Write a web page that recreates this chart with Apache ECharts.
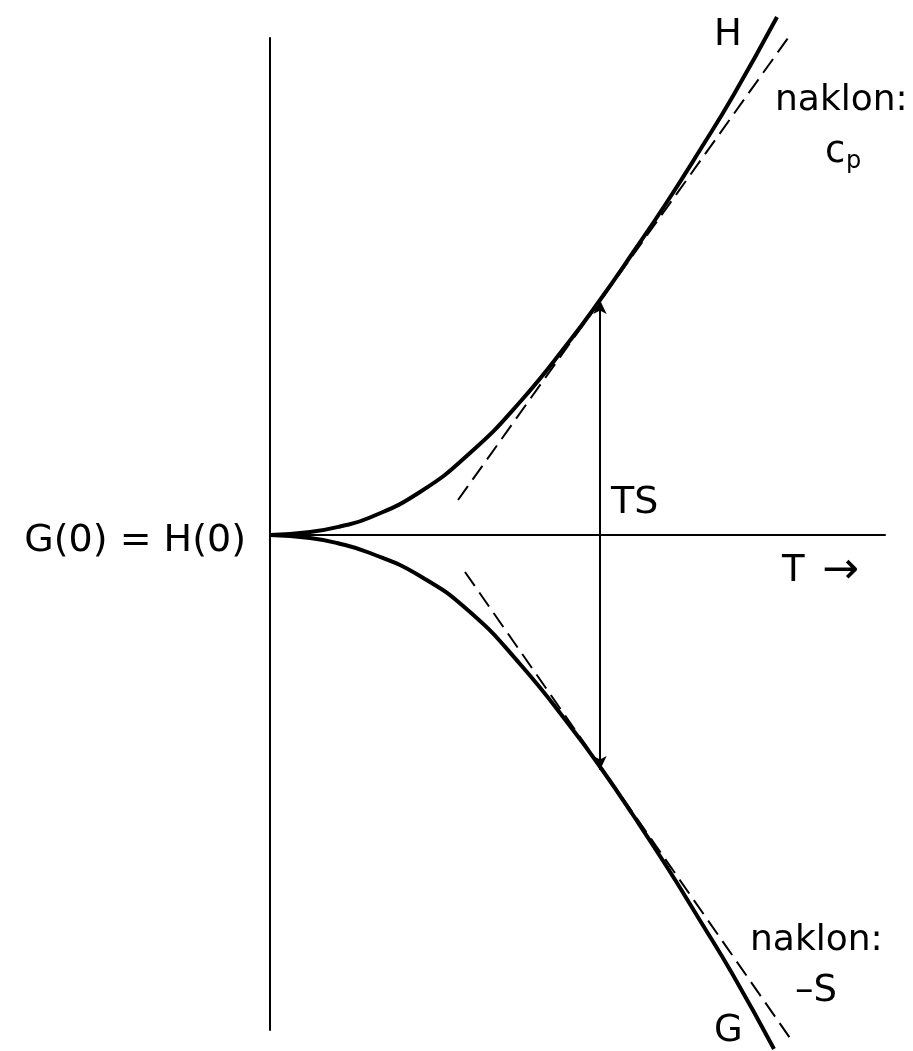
<!DOCTYPE html>
<html>
<head>
<meta charset="utf-8">
<script src="https://cdn.jsdelivr.net/npm/echarts@6/dist/echarts.min.js"></script>
<style>
  html, body { margin: 0; padding: 0; background: #fff; }
  #chart { width: 913px; height: 1051px; }
</style>
</head>
<body>
<div id="chart"></div>
<script>
// T in units of 100 px from the origin, value likewise (positive = up)
var hT = [0, 0.4, 0.7, 1.0, 1.5, 2.0, 2.5, 3.0, 3.3, 3.63, 3.97, 4.3, 4.63, 5.07];
var hVal = [0, 0.03, 0.085, 0.175, 0.43, 0.82, 1.33, 1.945, 2.35, 2.825, 3.33, 3.85, 4.39, 5.18];

var gT = [0, 0.4, 0.67, 1.0, 1.5, 2.0, 2.5, 3.0, 3.33, 3.63, 3.97, 4.3, 4.63, 5.04];
var gVal = [0, -0.03, -0.08, -0.18, -0.41, -0.77, -1.29, -1.91, -2.36, -2.8, -3.32, -3.855, -4.4, -5.14];

// tangent lines (slope c_p and -S)
var hTanT = [1.88, 5.18];
var hTanVal = [0.35, 4.97];
var gTanT = [1.95, 5.2];
var gTanVal = [-0.37, -5.03];

// T*S arrow between the curves
var arrowT = 3.3;
var arrowTop = 2.35;
var arrowBottom = -2.35;

function pairs(xs, ys) {
  return xs.map(function (x, i) { return [x, ys[i]]; });
}

var chart = echarts.init(document.getElementById("chart"));

var font = '"DejaVu Sans", Verdana, sans-serif';
function label(text, x, y, size, align) {
  return {
    type: "text",
    x: x,
    y: y,
    style: {
      text: text,
      font: size + "px " + font,
      fill: "#000",
      textAlign: align || "left",
      textVerticalAlign: "middle"
    }
  };
}

var curveStyle = { color: "#000", width: 4 };
var tangentStyle = { color: "#000", width: 2, type: [17, 8] };

var option = {
  animation: false,
  backgroundColor: "#fff",
  grid: { left: 270, right: 28, top: 38, bottom: 21 },
  xAxis: {
    type: "value",
    min: 0,
    max: 6.15,
    axisLine: { show: true, onZero: true, lineStyle: { color: "#000", width: 2 } },
    axisTick: { show: false },
    axisLabel: { show: false },
    splitLine: { show: false }
  },
  yAxis: {
    type: "value",
    min: -4.95,
    max: 4.97,
    axisLine: { show: true, onZero: true, lineStyle: { color: "#000", width: 2 } },
    axisTick: { show: false },
    axisLabel: { show: false },
    splitLine: { show: false }
  },
  series: [
    {
      name: "H",
      type: "line",
      data: pairs(hT, hVal),
      smooth: 0.5,
      showSymbol: false,
      clip: false,
      silent: true,
      lineStyle: curveStyle,
      markLine: {
        silent: true,
        symbol: ["arrow", "arrow"],
        symbolSize: [10, 14],
        label: { show: false },
        lineStyle: { color: "#000", width: 2, type: "solid" },
        data: [[{ coord: [arrowT, arrowTop] }, { coord: [arrowT, arrowBottom] }]]
      }
    },
    {
      name: "G",
      type: "line",
      data: pairs(gT, gVal),
      smooth: 0.5,
      showSymbol: false,
      clip: false,
      silent: true,
      lineStyle: curveStyle
    },
    {
      name: "H tangent",
      type: "line",
      data: pairs(hTanT, hTanVal),
      showSymbol: false,
      clip: false,
      silent: true,
      lineStyle: tangentStyle
    },
    {
      name: "G tangent",
      type: "line",
      data: pairs(gTanT, gTanVal),
      showSymbol: false,
      clip: false,
      silent: true,
      lineStyle: tangentStyle
    }
  ],
  graphic: [
    label("H", 714, 35, 37),
    label("naklon:", 775, 101, 36),
    label("c", 825, 152, 37),
    label("p", 846, 162, 24),
    label("TS", 611, 503, 38),
    label("T", 782, 571, 37),
    label("\u2192", 822, 572, 44),
    label("G(0) = H(0)", 246, 541, 38, "right"),
    label("naklon:", 750, 941, 36),
    label("\u2013S", 795, 991, 37),
    label("G", 714, 1031, 37)
  ]
};

chart.setOption(option);
</script>
</body>
</html>
